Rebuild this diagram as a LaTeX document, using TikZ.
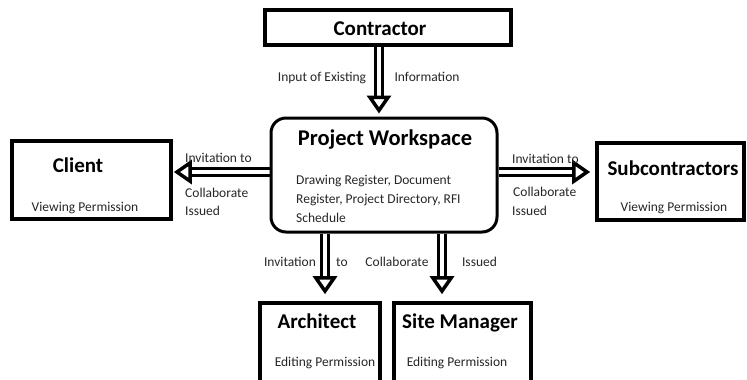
\documentclass[tikz,border=0pt]{standalone}
\usepackage{fontspec}
\setmainfont{Carlito}
\usetikzlibrary{arrows.meta, backgrounds, positioning}
\tikzset{
    boxnode/.style = {draw, rectangle, line width=3.6pt, inner sep=0em, node distance=0em},
    worknode/.style = {draw, rectangle, rounded corners=15pt, line width=3pt, inner sep=0em, node distance=0em},
    titlenode/.style = {draw=none, rectangle, inner sep=0em, node distance=0em, text depth=0pt,
      font=\fontsize{21}{25}\selectfont\bfseries},
    textnode/.style = {draw=none, rectangle, inner sep=0em, node distance=0em, text depth=0pt,
      text=black!85, font=\fontsize{13.5}{19}\selectfont},
    bigarrow/.style = {draw, line width=3.5pt, double, double distance=3.5pt,
      -{Triangle[open, length=18pt, width=24pt]}}
}
\begin{document}
\begin{tikzpicture}
    \useasboundingbox (0,0) rectangle (747pt,-380pt);
    \node [name=ws, worknode, minimum width=226pt, minimum height=114pt] at (384pt,-175pt) {};
    \node [name=wstitle, titlenode, font=\fontsize{22.5}{26}\selectfont\bfseries,
        right of = ws, xshift=1pt, yshift=37pt] {Project Workspace};
    \node [name=wstext, textnode, align=left,
        right of = ws, anchor=west, xshift=-88pt, yshift=-24pt] {Drawing Register, Document\\Register, Project Directory, RFI\\Schedule};

    % contractor on top
    \node [name=con, boxnode, minimum width=246pt, minimum height=35pt,
        right of = ws, xshift=4pt, yshift=147.5pt] {};
    \node [name=contitle, titlenode, right of = ws, xshift=-4pt, yshift=146pt] {Contractor};

    % client and subcontractors
    \node [name=client, boxnode, minimum width=159pt, minimum height=78pt,
        right of = ws, xshift=-292.5pt, yshift=-5pt] {};
    \node [name=clienttitle, titlenode, right of = ws, xshift=-306pt, yshift=10pt] {Client};
    \node [name=clientperm, textnode, right of = ws, xshift=-299pt, yshift=-32pt] {Viewing Permission};

    \node [name=sub, boxnode, minimum width=147pt, minimum height=77pt,
        right of = ws, xshift=286.5pt, yshift=-6.5pt] {};
    \node [name=subtitle, titlenode, right of = ws, xshift=289pt, yshift=7pt] {Subcontractors};
    \node [name=subperm, textnode, right of = ws, xshift=290pt, yshift=-32pt] {Viewing Permission};

    % architect and site manager
    \node [name=arch, boxnode, minimum width=120pt, minimum height=85pt,
        right of = ws, xshift=-64pt, yshift=-170.5pt] {};
    \node [name=archtitle, titlenode, right of = ws, xshift=-67pt, yshift=-146pt] {Architect};
    \node [name=archperm, textnode, right of = ws, xshift=-59pt, yshift=-187pt] {Editing Permission};

    \node [name=site, boxnode, minimum width=137pt, minimum height=85pt,
        right of = ws, xshift=78.5pt, yshift=-170.5pt] {};
    \node [name=sitetitle, titlenode, right of = ws, xshift=76pt, yshift=-146pt] {Site Manager};
    \node [name=siteperm, textnode, right of = ws, xshift=73pt, yshift=-187pt] {Editing Permission};

    % labels
    \node [name=lin1, textnode, right of = ws, xshift=-62pt, yshift=98pt] {Input of Existing};
    \node [name=lin2, textnode, right of = ws, xshift=43pt, yshift=98pt] {Information};

    \node [name=lcl1, textnode, right of = ws, anchor=west, xshift=-199pt, yshift=17pt] {Invitation to};
    \node [name=lcl2, textnode, right of = ws, anchor=west, xshift=-199pt, yshift=-18pt] {Collaborate};
    \node [name=lcl3, textnode, right of = ws, anchor=west, xshift=-199pt, yshift=-36pt] {Issued};

    \node [name=lsu1, textnode, right of = ws, anchor=west, xshift=128pt, yshift=16pt] {Invitation to};
    \node [name=lsu2, textnode, right of = ws, anchor=west, xshift=129pt, yshift=-17pt] {Collaborate};
    \node [name=lsu3, textnode, right of = ws, anchor=west, xshift=128pt, yshift=-36pt] {Issued};

    \node [name=lbo1, textnode, right of = ws, xshift=-94pt, yshift=-87pt] {Invitation};
    \node [name=lbo2, textnode, right of = ws, xshift=-42pt, yshift=-87pt] {to};
    \node [name=lbo3, textnode, right of = ws, xshift=13pt, yshift=-87pt] {Collaborate};
    \node [name=lbo4, textnode, right of = ws, xshift=95.5pt, yshift=-87pt] {Issued};

    \begin{scope}[on background layer]
    \draw [bigarrow, shorten >=3pt] ([xshift=-9pt]con.south) -- ([xshift=-5pt]ws.north);
    \draw [bigarrow, shorten >=1pt] ([yshift=3pt]ws.west) -- ([yshift=8pt]client.east);
    \draw [bigarrow, shorten >=5pt] ([yshift=3pt]ws.east) -- ([yshift=9.5pt]sub.west);
    \draw [bigarrow, shorten >=7pt] ([xshift=-59pt]ws.south) -- ([xshift=5pt]arch.north);
    \draw [bigarrow, shorten >=7pt] ([xshift=58pt]ws.south) -- ([xshift=-20.5pt]site.north);
    \end{scope}
\end{tikzpicture}
\end{document}
